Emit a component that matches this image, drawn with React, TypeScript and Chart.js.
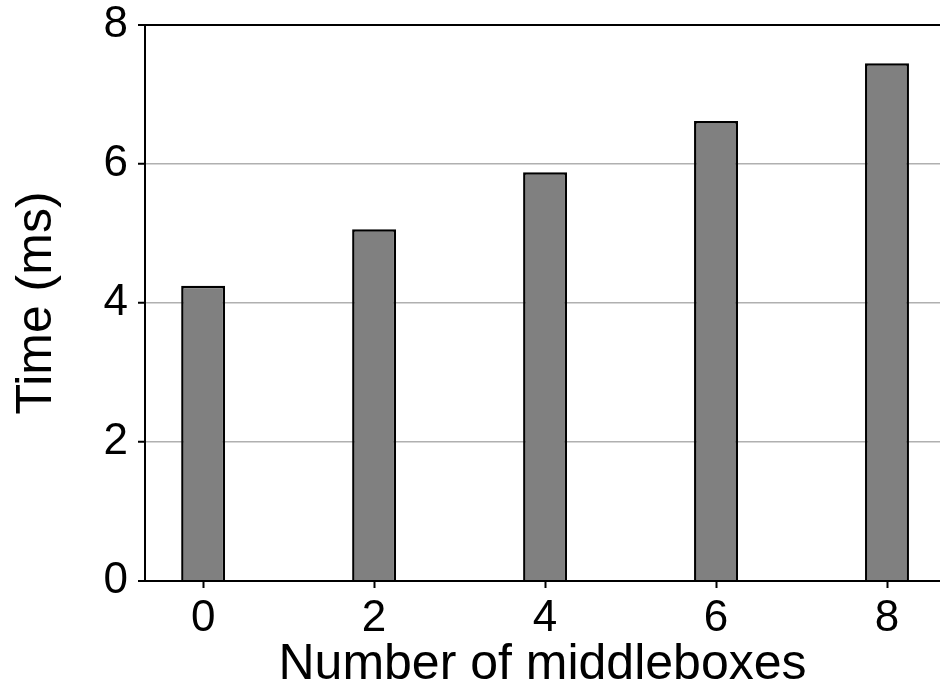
import React, { useEffect, useRef } from "react";
import { Chart, registerables } from "chart.js";

Chart.register(...registerables);

const middleboxes = [0, 2, 4, 6, 8];
const timeMs = [4.25, 5.06, 5.88, 6.62, 7.45];
const xTicks = [0, 2, 4, 6, 8];
const yTicks = [0, 2, 4, 6, 8];
const xTitle = "Number of middleboxes";
const yTitle = "Time (ms)";

const FONT = "'Liberation Sans', Arial, Helvetica, sans-serif";

export default function App() {
  const ref = useRef<HTMLCanvasElement | null>(null);

  useEffect(() => {
    if (!ref.current) return;
    const chart = new Chart(ref.current, {
      type: "bar",
      data: {
        datasets: [
          {
            data: middleboxes.map((m, i) => ({ x: m, y: timeMs[i] })),
            backgroundColor: "#808080",
            borderColor: "#000000",
            borderWidth: 2.5,
            borderSkipped: "start",
            categoryPercentage: 1,
            barPercentage: 0.257,
          },
        ],
      },
      options: {
        animation: false,
        responsive: false,
        maintainAspectRatio: false,
        layout: { padding: { top: 0, right: 0, left: 0, bottom: 0 } },
        plugins: { legend: { display: false }, tooltip: { enabled: false } },
        scales: {
          x: {
            type: "linear",
            min: -0.68,
            max: 8.62,
            offset: false,
            afterBuildTicks: (scale: any) => {
              scale.ticks = xTicks.map((v) => ({ value: v }));
            },
            afterFit: (scale: any) => {
              scale.height = 119;
            },
            grid: {
              offset: false,
              drawOnChartArea: false,
              drawTicks: true,
              tickLength: 7,
              tickColor: "#000000",
              tickWidth: 2,
            },
            border: { display: true, color: "#000000", width: 2 },
            ticks: {
              color: "#000000",
              font: { family: FONT, size: 44 },
              padding: 4,
              maxRotation: 0,
              autoSkip: false,
            },
            title: {
              display: true,
              text: xTitle,
              color: "#000000",
              font: { family: FONT, size: 50 },
              padding: { top: 0, bottom: 5 },
            },
          },
          y: {
            type: "linear",
            min: 0,
            max: 8,
            afterBuildTicks: (scale: any) => {
              scale.ticks = yTicks.map((v) => ({ value: v }));
            },
            afterFit: (scale: any) => {
              scale.width = 145;
              scale.paddingTop = 25;
              scale.paddingBottom = 0;
            },
            grid: {
              drawOnChartArea: true,
              drawTicks: true,
              tickLength: 7,
              tickColor: "#000000",
              tickWidth: 2,
              color: (ctx: any) => {
                const v = ctx.tick ? ctx.tick.value : 0;
                return v === 0 || v === 8 ? "#000000" : "#b0b0b0";
              },
              lineWidth: (ctx: any) => {
                const v = ctx.tick ? ctx.tick.value : 0;
                return v === 0 || v === 8 ? 2 : 1.5;
              },
            },
            border: { display: true, color: "#000000", width: 2 },
            ticks: {
              color: "#000000",
              font: { family: FONT, size: 44 },
              padding: 10,
            },
            title: {
              display: true,
              text: yTitle,
              color: "#000000",
              font: { family: FONT, size: 50 },
              padding: { top: 7, bottom: 0 },
            },
          },
        },
      },
    });
    return () => chart.destroy();
  }, []);

  return (
    <div style={{ position: "absolute", left: 0, top: 0, width: 940, height: 700, background: "#ffffff" }}>
      <canvas ref={ref} width={940} height={700} style={{ width: 940, height: 700, display: "block" }} />
    </div>
  );
}
